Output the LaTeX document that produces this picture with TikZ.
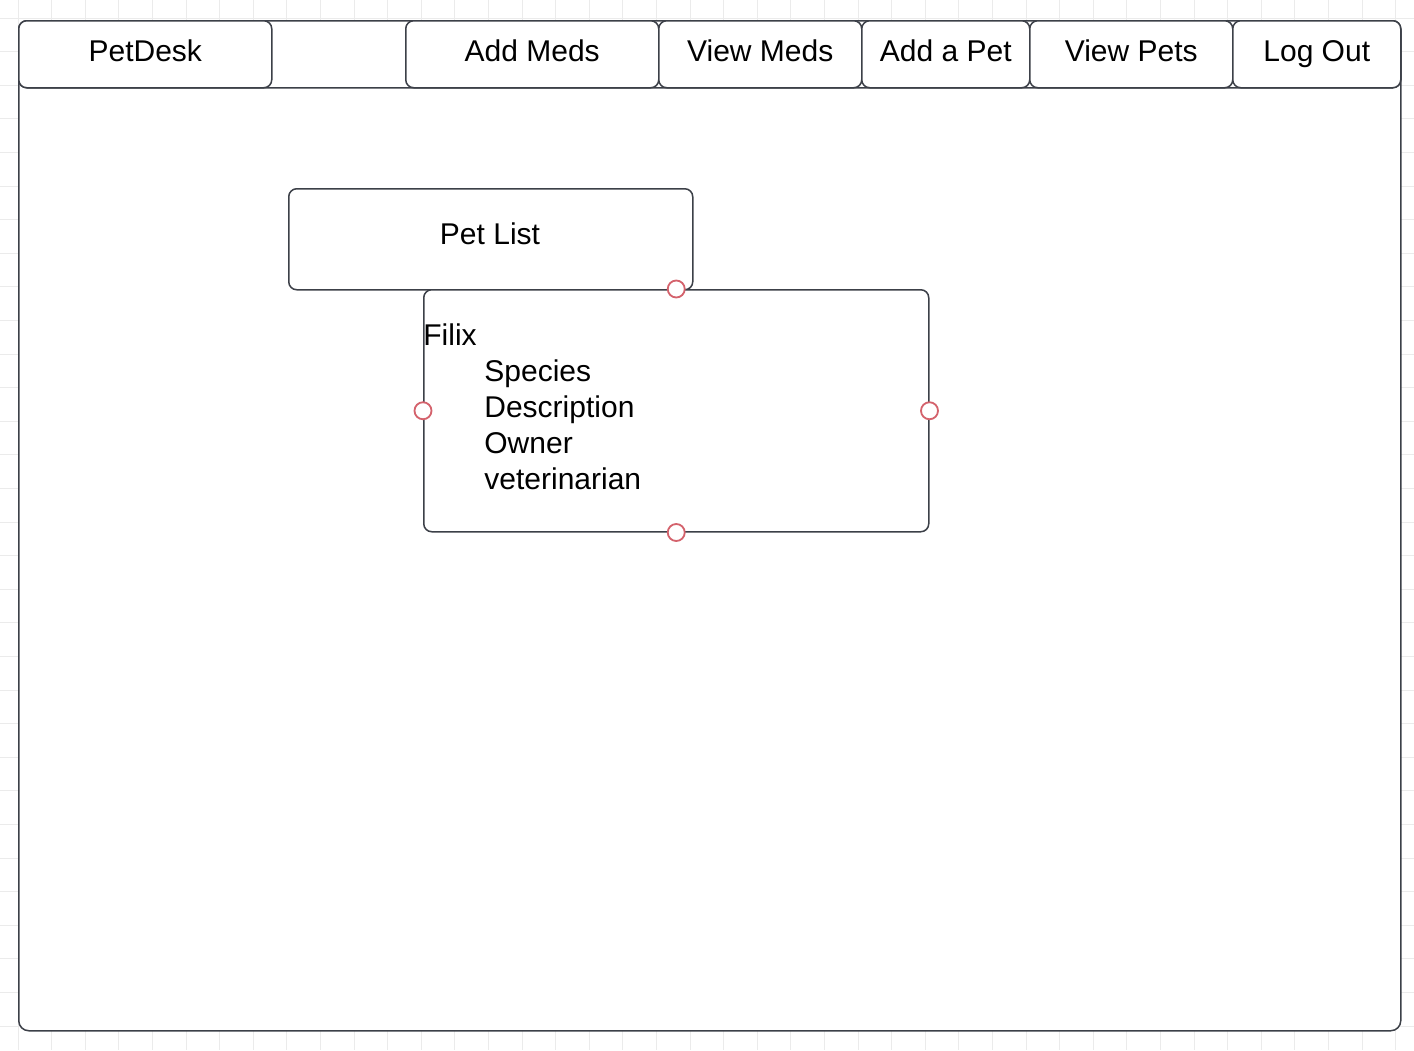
\documentclass[tikz,border=0pt]{standalone}
\usepackage{fontspec}
\setmainfont{Liberation Sans}
\usetikzlibrary{scopes}
\definecolor{edgegray}{HTML}{3C4048}
\definecolor{handlered}{HTML}{D4626C}
\definecolor{gridgray}{HTML}{EBEBEB}
\begin{document}
\begin{tikzpicture}[x=0.5pt,y=-0.5pt,
  tab/.style={draw=edgegray,line width=0.75pt,fill=white,rounded corners=4pt,
    minimum height=33.5pt,inner sep=0pt,text height=10.8pt,text depth=3.3pt,
    font=\fontsize{15}{18}\selectfont},
  field/.style={anchor=base west,inner sep=0pt,font=\fontsize{15}{18}\selectfont},
  handle/.style={circle,draw=handlered,line width=0.9pt,fill=white,
    minimum size=8.5pt,inner sep=0pt}]
  \useasboundingbox (0,0) rectangle (1414,1050);
  % background grid
  \foreach \x in {0,...,42}
    \draw[gridgray,line width=0.5pt] (18+33.6*\x-33.6,0) -- (18+33.6*\x-33.6,1050);
  \foreach \y in {0,...,32}
    \draw[gridgray,line width=0.5pt] (0,18+33.6*\y-33.6) -- (1414,18+33.6*\y-33.6);
  % page frame and header bar
  \node[tab,rounded corners=5pt,minimum width=691pt,minimum height=505pt,anchor=north west]
    (page) at (18,20) {};
  \node[tab,minimum width=691pt,anchor=north west] (header) at (18,20) {};
  \path;
  { [every node/.style={tab,anchor=north west}]
    \node[minimum width=126.5pt] (petdesk) at (18,20) {PetDesk};
    \node[minimum width=126.5pt] (addmeds) at (405,20) {Add Meds};
    \node[minimum width=101.5pt] (viewmeds) at (658,20) {View Meds};
    \node[minimum width=84pt] (addpet) at (861,20) {Add a Pet};
    \node[minimum width=101.5pt] (viewpets) at (1029,20) {View Pets};
    \node[minimum width=84pt] (logout) at (1232,20) {Log Out};
  }
  % pet list
  \node[tab,anchor=north west,minimum width=202pt,minimum height=50.5pt] (petlist) at (288,188) {};
  \node[font=\fontsize{15}{18}\selectfont] (petlisttitle) at (490,234) {Pet List};
  \node[tab,anchor=north west,minimum width=252.5pt,minimum height=121pt] (detail) at (423,289) {};
  \node[field] (petname) at (423,345) {Filix};
  \foreach \attr [count=\i] in {Species,Description,Owner,veterinarian}
    \node[field] (attr\i) at (484,345+36*\i) {\attr};
  % selection handles
  \foreach \side in {north,west,east,south}
    \node[handle] (handle-\side) at (detail.\side) {};
\end{tikzpicture}
\end{document}
